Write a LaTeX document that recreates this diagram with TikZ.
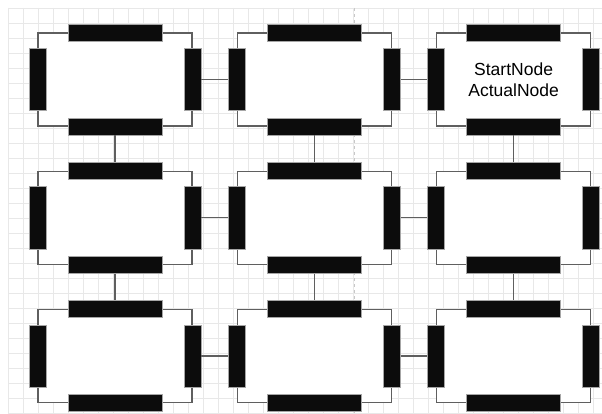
\documentclass[tikz,border=0pt]{standalone}
\usepackage{fontspec}
\setmainfont{Liberation Sans}
\usepackage{xcolor}
\usepackage{tikz}
\usetikzlibrary{
  positioning,
  backgrounds
}
\definecolor{wallgray}{RGB}{95, 95, 95}
\definecolor{doorblack}{RGB}{12, 12, 12}
\definecolor{gridgray}{RGB}{232, 232, 232}
\definecolor{guidegray}{RGB}{200, 200, 200}
\tikzset{
  room/.style = {
    rectangle, draw=wallgray, line width=1.3pt,
    fill=white, minimum width=154pt, minimum height=93pt,
    inner sep=0pt, align=center,
    font=\fontsize{17.5}{21}\selectfont
  },
  hdoor/.style = {
    rectangle, draw=gray!70, line width=0.6pt,
    fill=doorblack, minimum width=94pt, minimum height=17pt,
    inner sep=0pt
  },
  vdoor/.style = {
    rectangle, draw=gray!70, line width=0.6pt,
    fill=doorblack, minimum width=17pt, minimum height=62pt,
    inner sep=0pt
  },
  link/.style = {draw=wallgray, line width=1.3pt},
  gridline/.style = {draw=gridgray, line width=0.6pt},
  guide/.style = {draw=guidegray, dashed, line width=0.8pt},
}

\begin{document}
\begin{tikzpicture}[x=1pt, y=-1pt, node distance=44pt and 44pt]

  \useasboundingbox[fill=white] (0,0) rectangle (602,414);

  % background grid
  \foreach \gx in {8,23,...,602}
    \draw[gridline] (\gx,8) -- (\gx,414);
  \foreach \gy in {8,23,...,414}
    \draw[gridline] (8,\gy) -- (602,\gy);
  \draw[guide] (354,8) -- (354,414);

  % Row 1
  \node[room] (r11) at (115,79.5) {};
  \node[room, right=of r11] (r12) {};
  \node[room, right=of r12] (r13) {StartNode\\ActualNode};

  % Row 2
  \node[room, below=of r11] (r21) {};
  \node[room, right=of r21] (r22) {};
  \node[room, right=of r22] (r23) {};

  % Row 3
  \node[room, below=of r21] (r31) {};
  \node[room, right=of r31] (r32) {};
  \node[room, right=of r32] (r33) {};

  % Doors on each wall
  \foreach \r in {r11,r12,r13,r21,r22,r23,r31,r32,r33} {
    \node[hdoor] (\r-n) at (\r.north) {};
    \node[hdoor] (\r-s) at (\r.south) {};
    \node[vdoor] (\r-w) at (\r.west) {};
    \node[vdoor] (\r-e) at (\r.east) {};
  }

  % Corridors
  \draw[link] (r11-e) -- (r12-w);
  \draw[link] (r12-e) -- (r13-w);
  \draw[link] (r21-e) -- (r22-w);
  \draw[link] (r22-e) -- (r23-w);
  \draw[link] (r31-e) -- (r32-w);
  \draw[link] (r32-e) -- (r33-w);
  \draw[link] (r11-s) -- (r21-n);
  \draw[link] (r21-s) -- (r31-n);
  \draw[link] (r12-s) -- (r22-n);
  \draw[link] (r22-s) -- (r32-n);
  \draw[link] (r13-s) -- (r23-n);
  \draw[link] (r23-s) -- (r33-n);

\end{tikzpicture}
\end{document}
